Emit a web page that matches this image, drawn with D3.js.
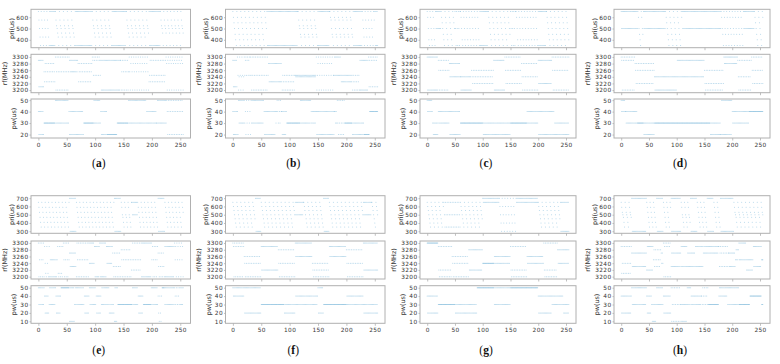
<!DOCTYPE html>
<html>
<head>
<meta charset="utf-8">
<script src="https://cdn.jsdelivr.net/npm/d3@7/dist/d3.min.js"></script>
<style>
  body { margin: 0; background: #fff; }
  svg { display: block; }
  .tick text { font-family: "DejaVu Sans", sans-serif; font-size: 5.8px; letter-spacing: 0.4px; }
  .ylab { font-family: "DejaVu Sans", sans-serif; font-size: 6.4px; fill: #333; }
  .cap { font-family: "Liberation Serif", "Times New Roman", serif; font-size: 11.5px; fill: #111; }
</style>
</head>
<body>
<svg id="chart" width="780" height="364"></svg>
<script>
// each series: [start pulse index, levels visited in turn until next start]
var priA = [[0,[650,575,500,425,350]],[20,[650,350]],[30,[650,575,525,500,460,425,350]],[65,[650,350]],[95,[650,575,525,500,460,425,350]],[130,[650,350]],[155,[650,575,525,500,460,425,350]],[195,[650,350]],[215,[650,575,525,500,460,350]]];
var rfA = [[0,[3290,3210]],[10,[3255,3225,3280]],[30,[3300,3200,3255]],[55,[3290,3255]],[70,[3280,3225,3255]],[95,[3300,3290,3245]],[110,[3290,3200]],[145,[3290,3200,3255]],[160,[3300,3255,3200,3280]],[195,[3225,3245,3290]],[225,[3300,3280,3200,3290]]];
var pwA = [[0,[40,20]],[10,[30]],[30,[50,30]],[54,[40,20]],[80,[30]],[98,[50,30]],[110,[40,20]],[121,[20]],[139,[30]],[159,[50,30]],[191,[40,30]],[209,[30,50]],[226,[50,40,20]]];

var priB = [[0,[650,600,550,500,450,400,350]],[60,[650,350]],[115,[650,575,525,500,450,425,350]],[150,[650,350]],[171,[650,600,575,500,450,425,350]],[212,[650,350]],[228,[650,575,500,425,350]],[250,[650,350]]];
var rfB = [[0,[3290,3210]],[8,[3300,3245,3200,3240]],[22,[3290,3300,3245]],[31,[3300,3245,3200]],[63,[3280,3225]],[86,[3225,3200,3245]],[110,[3245,3240]],[147,[3300,3200,3245,3280]],[178,[3245,3300]],[191,[3225,3245]],[211,[3200,3225,3245]],[224,[3290,3200]],[238,[3290,3300,3210]]];
var pwB = [[0,[40,20]],[10,[50,30]],[22,[40,20,50,30]],[34,[50,30]],[55,[40,20]],[75,[40,30]],[78,[50,40,30]],[86,[40,20]],[95,[30]],[119,[50,30]],[138,[40,30]],[147,[40,20]],[180,[40,30]],[184,[50,30,20]],[197,[30]],[210,[30,20]],[232,[20]],[241,[40]]];

var priC = [[0,[650,600,500,400,350]],[15,[650,500]],[25,[650,600,550,500,450,400,350]],[50,[650,500,350]],[60,[650,600,500,400,350]],[95,[650,350]],[110,[650,600,550,500,450,400,350]],[150,[650,500,350]],[160,[650,600,500,400,350]],[200,[650,350]],[215,[650,600,550,500,450,400,350]]];
var rfC = [[0,[3300,3200]],[20,[3290,3260,3200]],[40,[3280,3240]],[60,[3240,3200]],[80,[3260,3240,3220]],[120,[3290,3200]],[140,[3300,3260,3220]],[170,[3280,3240,3200]],[200,[3290,3220]],[225,[3300,3260,3200]]];
var pwC = [[0,[50,40]],[10,[30,20]],[20,[40,30]],[40,[40,20]],[60,[30]],[100,[30,20]],[150,[30]],[180,[40,30]],[200,[40,20]],[230,[30,20]]];

var priD = [[0,[650,500]],[30,[650,600,500,450,400,350]],[40,[650,500]],[80,[650,600,550,500,450,400,350]],[110,[650,500]],[180,[650,600,500,450,350]],[220,[650,500]],[240,[650,600,550,500,450,400,350]]];
var rfD = [[0,[3300,3290,3200]],[25,[3280,3260,3220]],[60,[3240,3200]],[100,[3240,3290]],[150,[3260,3220,3200]],[185,[3300,3280]],[210,[3290,3240,3200]],[235,[3300,3260,3220]]];
var pwD = [[0,[50,40]],[8,[40,30]],[30,[30]],[40,[30,20]],[60,[30]],[160,[30,20]],[180,[20,50]],[200,[40,30]],[230,[40]]];

var priE = [[0,[650,590,530,470,410,350]],[55,[700,300]],[67,[650,590,530,470,410,350]],[134,[700,300]],[146,[650,590,500,470,410,350]],[165,[650,500]],[175,[650,590,530,470,410,350]],[211,[700,300]],[223,[650,590,530,470,410,350]]];
var rfE = [[0,[3300,3200,3250]],[11,[3290,3240,3210,3200]],[20,[3200,3250]],[34,[3290,3210,3200]],[44,[3300,3250,3200]],[55,[3270,3230]],[67,[3200,3300,3250]],[90,[3240,3300]],[99,[3290,3200]],[108,[3300,3200]],[120,[3290,3240]],[131,[3270,3230,3200]],[146,[3280,3250,3200]],[164,[3220,3250,3300]],[181,[3300,3200]],[200,[3250,3290,3200]],[211,[3270,3230,3200]],[223,[3290,3200]],[240,[3300,3250,3290,3200]]];
var pwE = [[0,[50,30]],[11,[40,20]],[19,[30,50]],[31,[40,20]],[40,[50]],[55,[10,50]],[64,[30,50]],[81,[40,20]],[90,[50,30]],[102,[40,20]],[111,[30,50]],[125,[20,30]],[134,[10,50]],[140,[30]],[165,[30,50]],[176,[40,20]],[185,[30]],[199,[50,30]],[211,[40,20,10]],[218,[50]],[223,[30,50]],[241,[40,30,50]],[248,[30,50]]];

var priF = [[0,[650,600,550,500,450,400,350]],[40,[700,300]],[50,[650,600,550,500,450,400,350]],[110,[650,500]],[125,[650,600,550,500,450,400,350]],[160,[700,300]],[170,[650,600,550,500,450,400,350]],[230,[650,500]],[245,[650,600,550,500,450,400,350]]];
var rfF = [[0,[3300,3290,3200]],[20,[3260,3240,3200]],[50,[3290,3220]],[80,[3280,3240,3200]],[110,[3300,3260]],[140,[3240,3220,3200]],[170,[3290,3260]],[200,[3280,3240,3200]],[230,[3300,3220]]];
var pwF = [[0,[50,40]],[20,[50,20]],[50,[30]],[90,[30,20]],[110,[30,40]],[150,[50,20]],[160,[30]],[200,[30,40]],[230,[30,20]]];

var priG = [[0,[650,600,550,500,450,400,350]],[30,[650,500,350]],[60,[650,600,550,500,450,400,350]],[100,[700,650]],[130,[700,600,500,400,300]],[160,[700,650]],[200,[650,600,550,500,450,400,350]],[240,[650,300]]];
var rfG = [[0,[3300]],[20,[3290,3220,3200]],[45,[3260,3240,3200]],[75,[3280,3220]],[100,[3240]],[120,[3240,3260]],[150,[3290,3220,3200]],[180,[3260,3240]],[210,[3300,3220,3200]],[235,[3280,3240]]];
var pwG = [[0,[40,20]],[20,[30]],[50,[30,20]],[90,[50]],[120,[50,30]],[150,[50]],[200,[40,20]],[225,[30,40]],[245,[30,20]]];

var priH = [[0,[650,590,530,500,470,410,350]],[19,[700,300]],[46,[650,590,530,470,410,350]],[64,[700,300]],[76,[650,590,530,470,410,350]],[90,[700,300]],[108,[650,590,500,470,410,350]],[125,[700,300]],[137,[650,590,530,470,410,350]],[155,[700,300]],[167,[650,590,530,470,410,350]],[179,[700,300]],[203,[650,590,530,500,470,410,350]]];
var rfH = [[0,[3290,3210,3240]],[19,[3270,3230]],[46,[3220,3290]],[58,[3250,3280,3230]],[72,[3270,3240]],[76,[3300,3200,3290]],[90,[3230,3270]],[108,[3290,3230]],[120,[3270,3230]],[134,[3290,3230]],[148,[3270,3290]],[176,[3290,3230,3270]],[194,[3270,3230]],[206,[3250,3280]],[212,[3300,3250]],[226,[3220,3250]],[238,[3290,3230]],[253,[3250]]];
var pwH = [[0,[40,20]],[19,[50,30]],[46,[40,20]],[55,[30,10]],[64,[50,30]],[76,[40,20]],[90,[50,10,30]],[108,[30,10]],[119,[50,30]],[126,[40,30]],[145,[40,30,50]],[157,[30]],[176,[40,50]],[191,[50,30]],[212,[30]],[232,[40]],[253,[30]]];

var panelNames = ['a','b','c','d','e','f','g','h'];
var panelData = [[priA,rfA,pwA],[priB,rfB,pwB],[priC,rfC,pwC],[priD,rfD,pwD],
                 [priE,rfE,pwE],[priF,rfF,pwF],[priG,rfG,pwG],[priH,rfH,pwH]];
var yLabels = ['pri(us)','rf(MHz)','pw(us)'];
var xTicks = [0,50,100,150,200,250];
var yTicksTop = [[400,500,600],[3200,3220,3240,3260,3280,3300],[20,30,40,50]];
var yTicksBot = [[300,400,500,600,700],[3200,3220,3240,3260,3280,3300],[10,20,30,40,50]];
var nPulses = 256;

// layout
var colLeft = [31, 225.5, 420, 614];
var colWidth = [159.5, 159.5, 156, 156];
var rowFrames = [
  [[9.3,47.7],[54.3,92.7],[99,138]],
  [[195.7,233.3],[241,279],[285.7,323.3]]
];
var yDomTop = [[330,670],[3192,3308],[17,51]];
var yDomBot = [[275,730],[3193,3306],[7.6,52.4]];
var labelOffset = [19.5, 26.5, 17];
var capY = [167, 354];

var svg = d3.select('#chart');
var grey = '#b0b0b0';
var dotColor = '#58a6d2';

function expand(segs){
  var out = [];
  for(var s = 0; s < segs.length; s++){
    var start = segs[s][0];
    var end = s + 1 < segs.length ? segs[s+1][0] : nPulses;
    var lv = segs[s][1];
    for(var i = start; i < end; i++){
      out.push({x:i, y:lv[(i - start) % lv.length]});
    }
  }
  return out;
}

panelData.forEach(function(series, p){
  var row = p < 4 ? 0 : 1;
  var col = p % 4;
  var left = colLeft[col], w = colWidth[col];
  var x = d3.scaleLinear().domain([-13, 268]).range([left, left + w]);

  series.forEach(function(segs, k){
    var fr = rowFrames[row][k];
    var dom = row === 0 ? yDomTop[k] : yDomBot[k];
    var ticks = row === 0 ? yTicksTop[k] : yTicksBot[k];
    var y = d3.scaleLinear().domain(dom).range([fr[1], fr[0]]);
    var g = svg.append('g');

    g.append('g').selectAll('circle')
      .data(expand(segs))
      .enter().append('circle')
      .attr('cx', function(d){ return x(d.x); })
      .attr('cy', function(d){ return y(d.y); })
      .attr('r', 0.5)
      .attr('fill', dotColor)
      .attr('fill-opacity', 0.5);

    var ya = g.append('g').attr('transform','translate('+left+',0)')
      .call(d3.axisLeft(y).tickValues(ticks).tickSize(1.5).tickPadding(1).tickFormat(d3.format('d')));
    var xa = g.append('g').attr('transform','translate(0,'+fr[1]+')')
      .call(d3.axisBottom(x).tickValues(xTicks).tickSize(2.5).tickPadding(2.2).tickFormat(d3.format('d')));
    if(k !== 2) xa.selectAll('text').remove();
    [ya, xa].forEach(function(a){
      a.select('.domain').remove();
      a.selectAll('line').attr('stroke', grey).attr('stroke-width', 0.8);
      a.selectAll('text').attr('fill', '#333');
    });

    g.append('rect')
      .attr('x', left).attr('y', fr[0])
      .attr('width', w).attr('height', fr[1] - fr[0])
      .attr('fill','none').attr('stroke', grey).attr('stroke-width', 1);

    g.append('text').attr('class','ylab')
      .attr('transform','translate('+(left - labelOffset[k])+','+((fr[0]+fr[1])/2)+') rotate(-90)')
      .attr('text-anchor','middle').attr('dy','0.35em')
      .text(yLabels[k]);
  });

  var cap = svg.append('text').attr('class','cap')
    .attr('x', left + w/2 - 12).attr('y', capY[row]).attr('text-anchor','middle');
  cap.append('tspan').text('(');
  cap.append('tspan').attr('font-weight','bold').text(panelNames[p]);
  cap.append('tspan').text(')');
});
</script>
</body>
</html>
